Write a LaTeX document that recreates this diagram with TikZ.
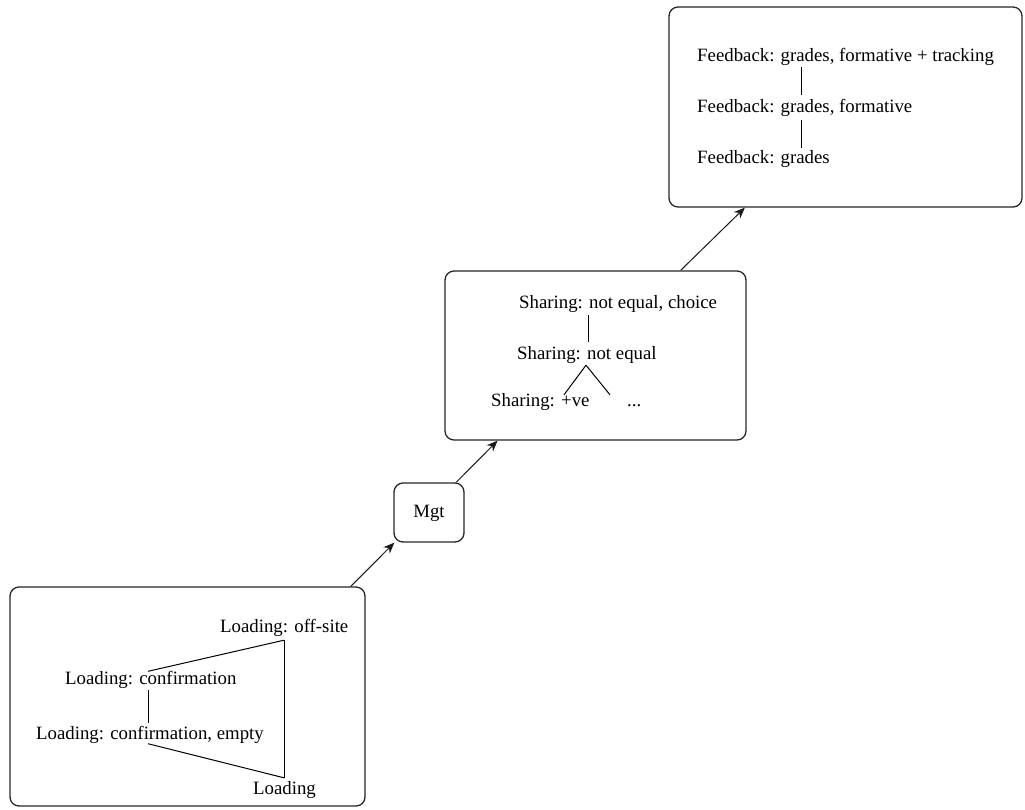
\documentclass[tikz,border=0pt]{standalone}
\usepackage{fontspec}
\setmainfont{Liberation Serif}
\usetikzlibrary{arrows.meta}
\begin{document}
\begin{tikzpicture}[x=1pt,y=-1pt,
  box/.style={draw=black!85, line width=1.3pt, rounded corners=9pt, inner sep=0pt},
  lbl/.style={font=\fontsize{18.8}{22}\selectfont, inner sep=0pt, text height=13pt, text depth=4pt},
  arr/.style={draw=black!90, line width=1pt, -{Stealth[length=11pt,width=9pt]}},
  tie/.style={draw=black, line width=1pt}]
\useasboundingbox (0,0) rectangle (1025,809);
% boxes
\node[box, minimum width=355pt, minimum height=219pt] (b1) at (187.5,696.5) {};
\node[box, minimum width=70pt, minimum height=59pt] (mgt) at (429,512.5) {};
\node[lbl] (mgtt) at (429,513) {Mgt};
\node[box, minimum width=301pt, minimum height=169pt] (b2) at (595.5,355.5) {};
\node[box, minimum width=353pt, minimum height=200pt] (b3) at (845.5,107) {};
% arrows
\draw[arr] (b1.34) -- (mgt.221);
\draw[arr] (mgt.48.6) -- (b2.221);
\draw[arr] (b2.45) -- (b3.225);
% Loading lattice
\node[lbl, anchor=west] (l1) at (220,628) {Loading: off-site};
\node[lbl, anchor=west] (l2) at (65,680) {Loading: confirmation};
\node[lbl, anchor=west] (l3) at (36,735) {Loading: confirmation, empty};
\node[lbl, anchor=west] (l4) at (253,790) {Loading};
\coordinate (lx) at (148,0);
\coordinate (rx) at (284,0);
\draw[tie] ([yshift=-3.5pt]l1.south -| rx) -- ([yshift=3.5pt]l4.north -| rx);
\draw[tie] ([yshift=-3.5pt]l1.south -| rx) -- (l2.north -| lx);
\draw[tie] ([yshift=-1.5pt]l2.south -| lx) -- ([yshift=3.5pt]l3.north -| lx);
\draw[tie] (l3.south -| lx) -- ([yshift=3.5pt]l4.north -| rx);
% Sharing tree
\node[lbl, anchor=west] (s1) at (519,304) {Sharing: not equal, choice};
\node[lbl, anchor=west] (s2) at (517,355) {Sharing: not equal};
\node[lbl, anchor=west] (s3) at (491,402) {Sharing: +ve};
\node[lbl, anchor=west] (s4) at (627,402) {...};
\coordinate (sx) at (588,0);
\coordinate (px) at (586,0);
\coordinate (ax) at (564,0);
\coordinate (bx) at (610,0);
\draw[tie] ([yshift=-2.5pt]s1.south -| sx) -- ([yshift=4.5pt]s2.north -| sx);
\draw[tie] ([yshift=-1.5pt]s2.south -| px) -- ([yshift=-1.5pt]s3.north -| ax);
\draw[tie] ([yshift=-1.5pt]s2.south -| px) -- ([yshift=-1.5pt]s4.north -| bx);
% Feedback chain
\node[lbl, anchor=west] (f1) at (697,57) {Feedback: grades, formative + tracking};
\node[lbl, anchor=west] (f2) at (697,108) {Feedback: grades, formative};
\node[lbl, anchor=west] (f3) at (697,159) {Feedback: grades};
\coordinate (fx) at (801,0);
\draw[tie] ([yshift=-1.5pt]f1.south -| fx) -- ([yshift=4.5pt]f2.north -| fx);
\draw[tie] ([yshift=-3.5pt]f2.south -| fx) -- ([yshift=2.5pt]f3.north -| fx);
\end{tikzpicture}
\end{document}
